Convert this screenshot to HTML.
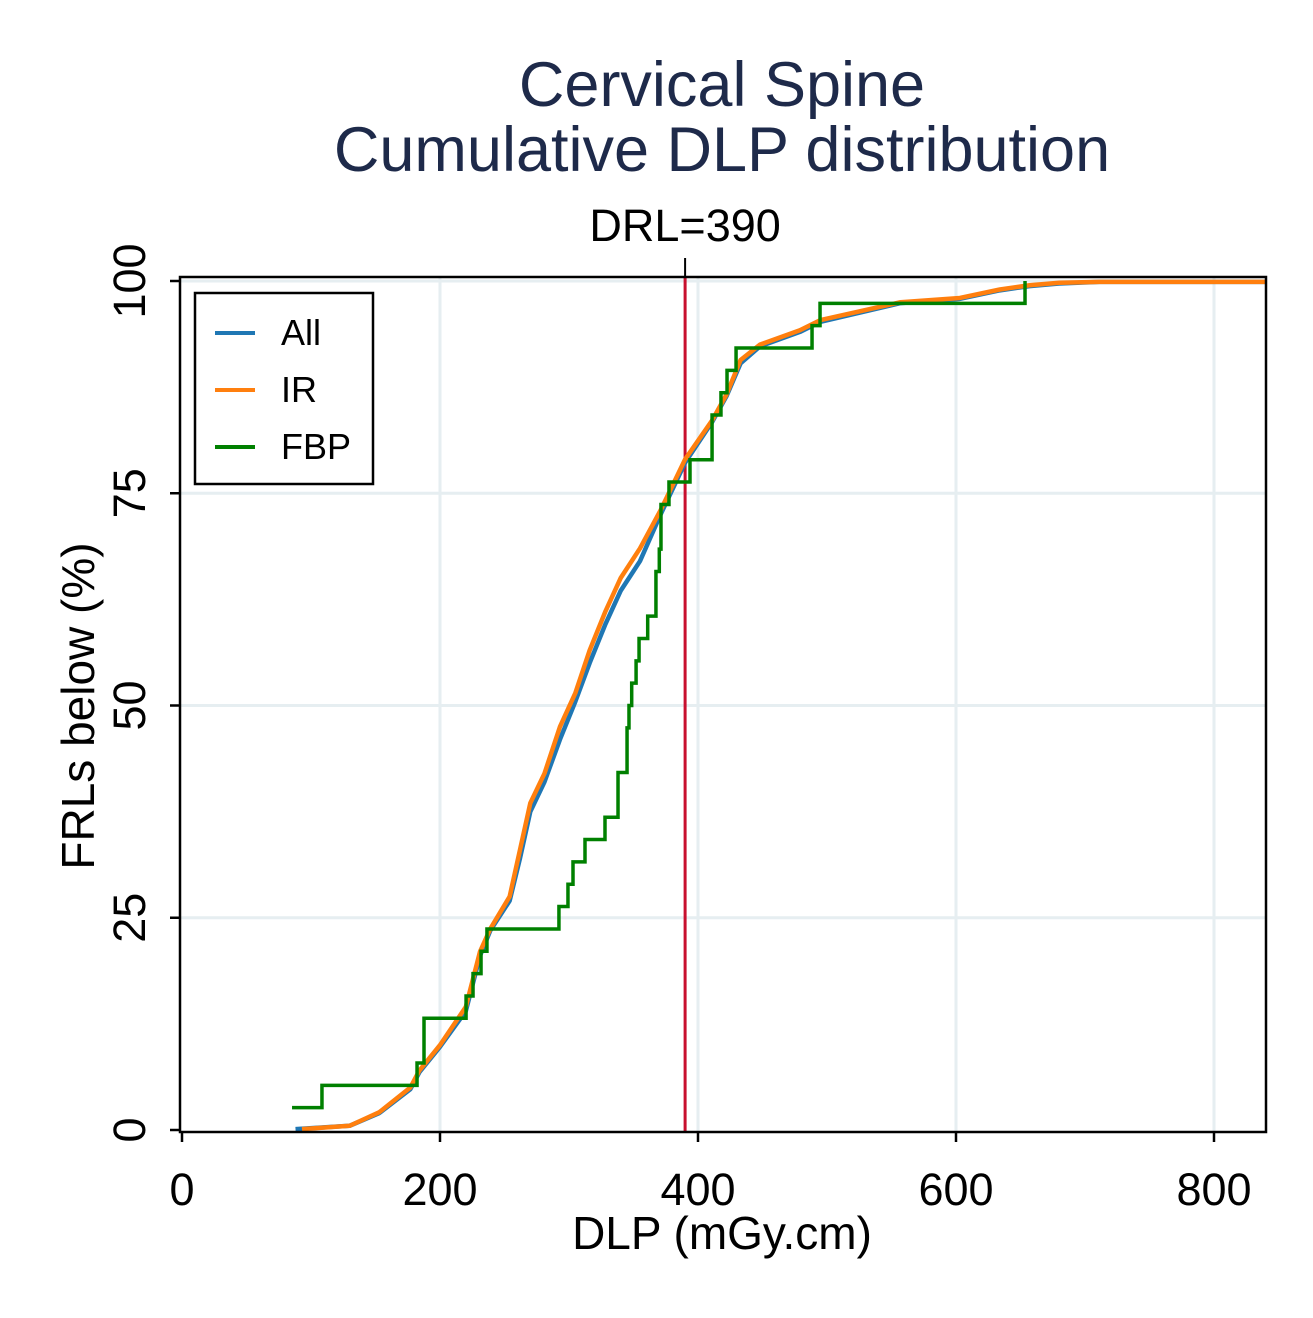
<!DOCTYPE html>
<html><head><meta charset="utf-8"><style>
body{margin:0;background:#fff;}
svg text{font-family:"Liberation Sans",Arial,sans-serif;}
</style></head><body>
<svg id="chart" width="1313" height="1313" viewBox="0 0 1313 1313" xmlns="http://www.w3.org/2000/svg">
<rect width="1313" height="1313" fill="#fff"/>
<text x="722" y="106" font-size="63" fill="#1e2a4a" text-anchor="middle">Cervical Spine</text>
<text x="722" y="171" font-size="63" fill="#1e2a4a" text-anchor="middle">Cumulative DLP distribution</text>
<g id="grid"></g>
<g id="series"></g>
<g id="axes"></g>
<text x="722" y="1249" font-size="46" fill="#000" text-anchor="middle">DLP (mGy.cm)</text>
<text transform="translate(94,706) rotate(-90)" font-size="46" fill="#000" text-anchor="middle">FRLs below (%)</text>
<g>
<rect x="195" y="293" width="178" height="191" fill="#fff" stroke="#000" stroke-width="2.5"/>
<line x1="215" y1="333" x2="255" y2="333" stroke="#1f77b4" stroke-width="4"/>
<text x="281" y="345" font-size="36">All</text>
<line x1="215" y1="390" x2="255" y2="390" stroke="#ff7f0e" stroke-width="4"/>
<text x="281" y="402" font-size="36">IR</text>
<line x1="215" y1="447" x2="255" y2="447" stroke="#008000" stroke-width="4"/>
<text x="281" y="459" font-size="36">FBP</text>
</g>
</svg>
<script>
const xTicks=[0,200,400,600,800];
const yTicks=[0,25,50,75,100];
const drlValue=390;
const allX=[88,130,153,177,184,200,220,231,239,254,262,270,281,293,305,316,328,340,355,371,390,411,422,433,448,479,495,557,603,634,657,680,711,840];
const allY=[0.1,0.5,2,4.8,6.8,9.8,14,20.5,23.5,27,32,37.5,41,46,50.5,55,59.5,63.5,67,72.5,78.6,83.4,86.4,90.3,92.3,94,95.2,97.4,97.9,98.9,99.4,99.7,99.9,99.9];
const irX=[93,130,153,177,184,200,220,231,239,254,262,270,281,293,305,316,328,340,355,371,390,411,422,433,448,479,495,557,603,634,657,680,711,840];
const irY=[0.1,0.5,2.1,5,7,10,14.5,21,23.7,27.5,33,38.5,42,47.5,51.5,56.5,61,65,68.5,73,79,83.6,86.6,90.7,92.5,94.2,95.4,97.5,98,99,99.5,99.8,99.9,99.9];
const fbpX=[85.3,108.5,182.2,187.6,220.2,225.6,231.8,236.4,292.2,299.2,303.1,312.4,327.9,338,345,346.5,348.6,352,354.3,361,367.4,370,371.3,377.5,393.8,410.9,417.8,422.5,429.5,488.4,494.6];
const fbpY=[2.63,5.26,7.89,13.16,15.79,18.42,21.05,23.68,26.32,28.95,31.58,34.21,36.84,42.11,47.37,50,52.63,55.26,57.89,60.53,65.79,68.42,73.68,76.32,78.95,84.21,86.84,89.47,92.11,94.74,97.37];
const fbpEnd=[653.5,100];

const X0=182,XS=1.29,Y0=1130,YS=8.49;
const sx=v=>X0+v*XS, sy=v=>Y0-v*YS;
const NS="http://www.w3.org/2000/svg";
function mk(tag,attrs,parent){const e=document.createElementNS(NS,tag);for(const k in attrs)e.setAttribute(k,attrs[k]);parent.appendChild(e);return e;}
const grid=document.getElementById('grid'),axes=document.getElementById('axes'),series=document.getElementById('series');
xTicks.forEach(t=>{if(t>0){const g=mk('line',{x1:sx(t),x2:sx(t),y1:277,y2:1132,stroke:'#e6eef1','stroke-width':3},grid);

}
const tk=mk('line',{x1:sx(t),x2:sx(t),y1:1132,y2:1142,stroke:'#000','stroke-width':2.5},axes);


const lb=mk('text',{x:sx(t),y:1205,'font-size':45,'text-anchor':'middle'},axes);lb.textContent=t;

});
yTicks.forEach(t=>{if(t>0){const g=mk('line',{x1:180,x2:1266,y1:sy(t),y2:sy(t),stroke:'#e6eef1','stroke-width':3},grid);

}
const tk=mk('line',{x1:170,x2:180,y1:sy(t),y2:sy(t),stroke:'#000','stroke-width':2.5},axes);


const lb=mk('text',{transform:`translate(145,${sy(t)}) rotate(-90)`,'font-size':45,'text-anchor':'middle'},axes);lb.textContent=t;

});
const frame=mk('rect',{x:180,y:277,width:1086,height:855,fill:'none',stroke:'#000','stroke-width':2.5},axes);


const drl=mk('line',{x1:sx(drlValue),x2:sx(drlValue),y1:278,y2:1131,stroke:'#c8102e','stroke-width':3},series);


const drlTick=mk('line',{x1:sx(drlValue),x2:sx(drlValue),y1:258,y2:277,stroke:'#000','stroke-width':2},axes);


const drlLbl=mk('text',{x:sx(drlValue),y:241,'font-size':45,'text-anchor':'middle'},axes);drlLbl.textContent='DRL='+drlValue;


function linePath(xs,ys){return xs.map((x,i)=>(i?'L':'M')+sx(x)+','+sy(ys[i])).join(' ');}
const pAll=mk('path',{d:linePath(allX,allY),fill:'none',stroke:'#1f77b4','stroke-width':4.5,'stroke-linejoin':'round'},series);


const pIr=mk('path',{d:linePath(irX,irY),fill:'none',stroke:'#ff7f0e','stroke-width':4.5,'stroke-linejoin':'round'},series);


let d='M'+sx(fbpX[0])+','+sy(fbpY[0]);
for(let i=1;i<fbpX.length;i++){d+=' H'+sx(fbpX[i])+' V'+sy(fbpY[i]);}
d+=' H'+sx(fbpEnd[0])+' V'+sy(fbpEnd[1]);
const pF=mk('path',{d:d,fill:'none',stroke:'#008000','stroke-width':3.5},series);


</script>
</body></html>
